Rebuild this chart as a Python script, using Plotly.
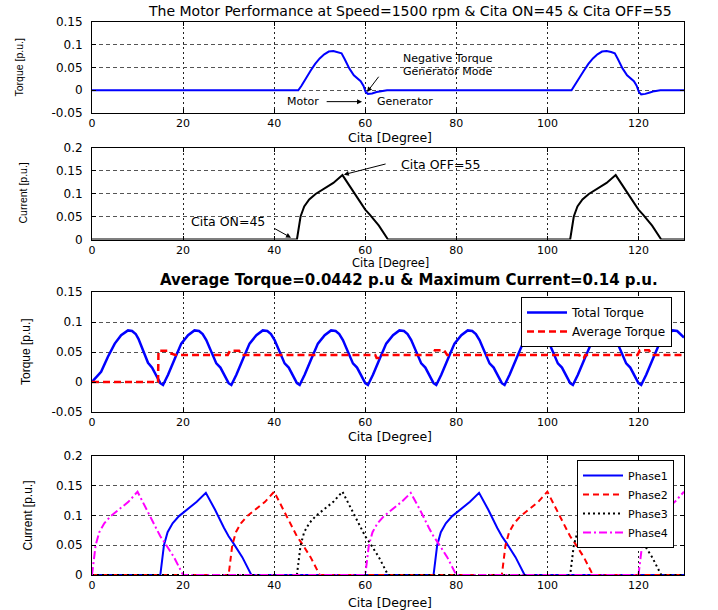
import plotly.graph_objects as go

# ---------------- data ----------------
# Panel 1: torque of one phase (Cita ON=45, OFF=55), p.u.
theta_t1 = [0, 45.3, 46, 46.5, 47, 48, 49, 50, 51, 52, 53, 54, 54.8, 55.5, 56.5, 57.5, 58.3, 59, 59.6, 60.1, 60.6, 61.5, 62.5, 63.5, 64.8,
            105.3, 106, 106.5, 107, 108, 109, 110, 111, 112, 113, 114, 114.8, 115.5, 116.5, 117.5, 118.3, 119, 119.6, 120.1, 120.6, 121.5, 122.5, 123.5, 124.8, 130]
torque_1 = [0, 0, 0.01, 0.019, 0.027, 0.043, 0.058, 0.07, 0.079, 0.085, 0.086, 0.084, 0.081, 0.068, 0.048, 0.033, 0.026, 0.02, 0.01, -0.004, -0.008, -0.007, -0.004, -0.002, 0,
            0, 0.01, 0.019, 0.027, 0.043, 0.058, 0.07, 0.079, 0.085, 0.086, 0.084, 0.081, 0.068, 0.048, 0.033, 0.026, 0.02, 0.01, -0.004, -0.009, -0.008, -0.005, -0.002, 0, 0]

# Panel 2: current of one phase, p.u.
theta_i1 = [0, 45, 45.4, 45.8, 46.6, 47.7, 49.1, 50.8, 53, 55, 57, 59, 60, 61, 63, 65,
            105, 105.4, 105.8, 106.6, 107.7, 109.1, 110.8, 113, 115, 117, 119, 120, 121, 123, 125, 130]
current_1 = [0, 0, 0.025, 0.05, 0.072, 0.087, 0.099, 0.109, 0.123, 0.14, 0.11, 0.079, 0.065, 0.054, 0.03, 0,
             0, 0.025, 0.05, 0.072, 0.087, 0.099, 0.109, 0.123, 0.14, 0.11, 0.079, 0.065, 0.054, 0.03, 0, 0]

# Panel 3: total torque and average torque, p.u.
theta_tot = [0, 1, 2, 3.5, 5, 6.4, 7.9, 8.8, 9.6, 10.2, 11.2, 12.3, 13.2, 14.1,
             15, 15.6, 16.7, 18.2, 19.6, 21.1, 22.5, 23.5, 24.3, 25.1, 26.2, 27.3, 28.2, 29.1,
             30, 30.6, 31.7, 33.2, 34.6, 36.1, 37.5, 38.5, 39.3, 40.1, 41.2, 42.3, 43.2, 44.1,
             45, 45.6, 46.7, 48.2, 49.6, 51.1, 52.5, 53.5, 54.3, 55.1, 56.2, 57.3, 58.2, 59.1,
             60, 60.6, 61.7, 63.2, 64.6, 66.1, 67.5, 68.5, 69.3, 70.1, 71.2, 72.3, 73.2, 74.1,
             75, 75.6, 76.7, 78.2, 79.6, 81.1, 82.5, 83.5, 84.3, 85.1, 86.2, 87.3, 88.2, 89.1,
             90, 90.6, 91.7, 93.2, 94.6, 96.1, 97.5, 98.5, 99.3, 100.1, 101.2, 102.3, 103.2, 104.1,
             105, 105.6, 106.7, 108.2, 109.6, 111.1, 112.5, 113.5, 114.3, 115.1, 116.2, 117.3, 118.2, 119.1,
             120, 120.6, 121.7, 123.2, 124.6, 126.1, 127.5, 128.5, 129.3, 130]
torque_tot = [0, 0.008, 0.017, 0.042, 0.064, 0.078, 0.086, 0.085, 0.080, 0.072, 0.052, 0.032, 0.024, 0.010,
              -0.002, -0.005, 0.012, 0.039, 0.064, 0.078, 0.086, 0.085, 0.080, 0.070, 0.050, 0.031, 0.024, 0.010,
              -0.002, -0.005, 0.012, 0.039, 0.064, 0.078, 0.086, 0.085, 0.080, 0.070, 0.050, 0.031, 0.024, 0.010,
              -0.002, -0.005, 0.012, 0.039, 0.064, 0.078, 0.086, 0.085, 0.080, 0.070, 0.050, 0.031, 0.024, 0.010,
              -0.002, -0.005, 0.012, 0.039, 0.064, 0.078, 0.086, 0.085, 0.080, 0.070, 0.050, 0.031, 0.024, 0.010,
              -0.002, -0.005, 0.012, 0.039, 0.064, 0.078, 0.086, 0.085, 0.080, 0.070, 0.050, 0.031, 0.024, 0.010,
              -0.002, -0.005, 0.012, 0.039, 0.064, 0.078, 0.086, 0.085, 0.080, 0.070, 0.050, 0.031, 0.024, 0.010,
              -0.002, -0.005, 0.012, 0.039, 0.064, 0.078, 0.086, 0.085, 0.080, 0.070, 0.050, 0.031, 0.024, 0.010,
              -0.002, -0.005, 0.012, 0.039, 0.064, 0.078, 0.086, 0.085, 0.080, 0.074]

theta_avg = [0, 14.5, 14.6, 16.6, 17.2, 18.3, 29.8, 30.3, 32.3, 33.0, 62.2, 62.5, 63.2, 63.5, 74.8, 75.3, 77.3, 78.0,
             107.0, 107.3, 108.0, 108.3, 119.8, 120.3, 122.3, 123.0, 130]
torque_avg = [0, 0, 0.052, 0.052, 0.048, 0.045, 0.045, 0.052, 0.052, 0.045, 0.045, 0.040, 0.040, 0.045, 0.045, 0.053, 0.053, 0.045,
              0.045, 0.040, 0.040, 0.045, 0.045, 0.053, 0.053, 0.045, 0.045]

# Panel 4: phase currents, p.u.
theta_p1 = [0, 15, 15.4, 15.8, 16.6, 17.7, 19.1, 20.8, 23, 25, 27, 29, 30, 31, 33, 35,
            75, 75.4, 75.8, 76.6, 77.7, 79.1, 80.8, 83, 85, 87, 89, 90, 91, 93, 95, 130]
current_p1 = [0, 0, 0.025, 0.05, 0.072, 0.087, 0.099, 0.109, 0.123, 0.138, 0.11, 0.079, 0.065, 0.054, 0.03, 0,
              0, 0.025, 0.05, 0.072, 0.087, 0.099, 0.109, 0.123, 0.138, 0.11, 0.079, 0.065, 0.054, 0.03, 0, 0]
theta_p2 = [0, 30, 30.4, 30.8, 31.6, 32.7, 34.1, 35.8, 38, 40, 42, 44, 45, 46, 48, 50,
            90, 90.4, 90.8, 91.6, 92.7, 94.1, 95.8, 98, 100, 102, 104, 105, 106, 108, 110, 130]
current_p2 = [0, 0, 0.025, 0.05, 0.072, 0.087, 0.099, 0.109, 0.123, 0.14, 0.11, 0.079, 0.065, 0.054, 0.03, 0,
              0, 0.025, 0.05, 0.072, 0.087, 0.099, 0.109, 0.123, 0.14, 0.11, 0.079, 0.065, 0.054, 0.03, 0, 0]
theta_p3 = [0, 45, 45.4, 45.8, 46.6, 47.7, 49.1, 50.8, 53, 55, 57, 59, 60, 61, 63, 65,
            105, 105.4, 105.8, 106.6, 107.7, 109.1, 110.8, 113, 115, 117, 119, 120, 121, 123, 125, 130]
current_p3 = [0, 0, 0.025, 0.05, 0.072, 0.087, 0.099, 0.109, 0.123, 0.14, 0.11, 0.079, 0.065, 0.054, 0.03, 0,
              0, 0.025, 0.05, 0.072, 0.087, 0.099, 0.109, 0.123, 0.14, 0.11, 0.079, 0.065, 0.054, 0.03, 0, 0]
theta_p4 = [0, 0.4, 0.8, 1.6, 2.7, 4.1, 5.8, 8, 10, 12, 14, 15, 16, 18, 20,
            60, 60.4, 60.8, 61.6, 62.7, 64.1, 65.8, 68, 70, 72, 74, 75, 76, 78, 80,
            120, 120.4, 120.8, 121.6, 122.7, 124.1, 125.8, 128, 130]
current_p4 = [0, 0.025, 0.05, 0.072, 0.087, 0.099, 0.109, 0.123, 0.14, 0.11, 0.079, 0.065, 0.054, 0.03, 0,
              0, 0.025, 0.05, 0.072, 0.087, 0.099, 0.109, 0.123, 0.138, 0.11, 0.079, 0.065, 0.054, 0.03, 0,
              0, 0.025, 0.05, 0.072, 0.087, 0.099, 0.109, 0.123, 0.14]

x_ticks = [0, 20, 40, 60, 80, 100, 120]
torque_ticks = [-0.05, 0, 0.05, 0.1, 0.15]
torque_ticklabels = ["-0.05", "0", "0.05", "0.1", "0.15"]
current_ticks = [0, 0.05, 0.1, 0.15, 0.2]
current_ticklabels = ["0", "0.05", "0.1", "0.15", "0.2"]

main_title = "The Motor Performance at Speed=1500 rpm & Cita ON=45 & Cita OFF=55"
sub_title = "Average Torque=0.0442 p.u & Maximum Current=0.14 p.u."

# ---------------- figure ----------------
W, H = 718, 610
L, R = 92, 34
PW = W - L - R

def px_x(px):
    return (px - L) / PW

def px_y(py):
    return 1 - py / H

TXT = "DejaVu Sans, Verdana, sans-serif"
BLUE, RED, MAG = "#0000ff", "#ff0000", "#ff00ff"

fig = go.Figure()

fig.add_trace(go.Scatter(x=theta_t1, y=torque_1, mode="lines", line=dict(color=BLUE, width=2),
                         xaxis="x", yaxis="y", showlegend=False))
fig.add_trace(go.Scatter(x=theta_i1, y=current_1, mode="lines", line=dict(color="black", width=2),
                         xaxis="x2", yaxis="y2", showlegend=False))
fig.add_trace(go.Scatter(x=theta_tot, y=torque_tot, mode="lines", name="Total Torque",
                         line=dict(color=BLUE, width=2.5), xaxis="x3", yaxis="y3", legend="legend"))
fig.add_trace(go.Scatter(x=theta_avg, y=torque_avg, mode="lines", name="Average Torque",
                         line=dict(color=RED, width=2.5, dash="7px,4px"), xaxis="x3", yaxis="y3", legend="legend"))
fig.add_trace(go.Scatter(x=theta_p1, y=current_p1, mode="lines", name="Phase1",
                         line=dict(color=BLUE, width=2), xaxis="x4", yaxis="y4", legend="legend2"))
fig.add_trace(go.Scatter(x=theta_p2, y=current_p2, mode="lines", name="Phase2",
                         line=dict(color=RED, width=2, dash="6px,4px"), xaxis="x4", yaxis="y4", legend="legend2"))
fig.add_trace(go.Scatter(x=theta_p3, y=current_p3, mode="lines", name="Phase3",
                         line=dict(color="black", width=2, dash="2px,3px"), xaxis="x4", yaxis="y4", legend="legend2"))
fig.add_trace(go.Scatter(x=theta_p4, y=current_p4, mode="lines", name="Phase4",
                         line=dict(color=MAG, width=2, dash="8px,3px,2px,3px"), xaxis="x4", yaxis="y4", legend="legend2"))

domains = {
    1: (px_y(113), px_y(22)),
    2: (px_y(239.5), px_y(147.5)),
    3: (px_y(412), px_y(292)),
    4: (px_y(575), px_y(456)),
}

def xaxis_cfg(anchor):
    return dict(domain=[0, 1], anchor=anchor, range=[0, 130], tickmode="array", tickvals=x_ticks,
                ticks="inside", ticklen=4, tickcolor="black", showline=True, linecolor="black", linewidth=1,
                mirror="ticks", showgrid=True, gridcolor="#222222", griddash="2px,3px", gridwidth=1,
                zeroline=False, tickfont=dict(family=TXT, size=11, color="black"))

def yaxis_cfg(anchor, dom, rng, vals, labels):
    return dict(domain=list(dom), anchor=anchor, range=rng, tickmode="array", tickvals=vals, ticktext=labels,
                ticks="inside", ticklen=4, tickcolor="black", showline=True, linecolor="black", linewidth=1,
                mirror="ticks", showgrid=True, gridcolor="#555555", griddash="4px,3px", gridwidth=1,
                zeroline=False, ticklabelstandoff=6, tickfont=dict(family=TXT, size=12, color="black"))

fig.update_layout(
    width=W, height=H, margin=dict(l=L, r=R, t=0, b=0, autoexpand=False),
    paper_bgcolor="white", plot_bgcolor="white",
    xaxis=xaxis_cfg("y"), yaxis=yaxis_cfg("x", domains[1], [-0.05, 0.15], torque_ticks, torque_ticklabels),
    xaxis2=xaxis_cfg("y2"), yaxis2=yaxis_cfg("x2", domains[2], [0, 0.2], current_ticks, current_ticklabels),
    xaxis3=xaxis_cfg("y3"), yaxis3=yaxis_cfg("x3", domains[3], [-0.05, 0.15], torque_ticks, torque_ticklabels),
    xaxis4=xaxis_cfg("y4"), yaxis4=yaxis_cfg("x4", domains[4], [0, 0.2], current_ticks, current_ticklabels),
    legend=dict(x=px_x(672), xanchor="right", y=px_y(297), yanchor="top", bgcolor="white",
                bordercolor="black", borderwidth=1, font=dict(family=TXT, size=12, color="black"),
                tracegroupgap=0, itemwidth=40),
    legend2=dict(x=px_x(674), xanchor="right", y=px_y(460), yanchor="top", bgcolor="white",
                 bordercolor="black", borderwidth=1, font=dict(family=TXT, size=11, color="black"),
                 tracegroupgap=0, itemwidth=40),
    showlegend=True,
)

ann = []
# titles
ann.append(dict(text=main_title, xref="paper", yref="paper", x=px_x(410), y=px_y(11.5), xanchor="center",
                yanchor="middle", showarrow=False, font=dict(family=TXT, size=14, color="black")))
ann.append(dict(text="<b>" + sub_title + "</b>", xref="paper", yref="paper", x=px_x(409), y=px_y(280),
                xanchor="center", yanchor="middle", showarrow=False, font=dict(family=TXT, size=15, color="black")))
# x-axis titles
for ypx, fs in ((137, 12.5), (262.5, 11.5), (436, 12.5), (602, 12.5)):
    ann.append(dict(text="Cita [Degree]", xref="paper", yref="paper", x=px_x(390), y=px_y(ypx), xanchor="center",
                    yanchor="middle", showarrow=False, font=dict(family=TXT, size=fs, color="black")))
# y-axis titles
ytitles = [("Torque [p.u.]", "y domain", 18, 10.5), ("Current [p.u.]", "y2 domain", 22, 10.5),
           ("Torque [p.u.]", "y3 domain", 26, 12), ("Current [p.u.]", "y4 domain", 27, 12)]
for txt, yref, xpx, fs in ytitles:
    ann.append(dict(text=txt, xref="paper", yref=yref, x=px_x(xpx), y=0.5, xanchor="center", yanchor="middle",
                    textangle=-90, showarrow=False,
                    font=dict(family="Liberation Sans, Arial, sans-serif", size=fs, color="black")))

# panel 1 annotations
AF = dict(family=TXT, size=12.5, color="black")
AFS = dict(family=TXT, size=11, color="black")
ann.append(dict(text="Negative Torque", xref="x", yref="y", x=78.2, y=0.0705, showarrow=False, font=AFS))
ann.append(dict(text="Generator Mode", xref="x", yref="y", x=78.2, y=0.041, showarrow=False, font=AFS))
ann.append(dict(text="", xref="x", yref="y", x=60.4, y=-0.004, axref="x", ayref="y", ax=63.2, ay=0.033,
                showarrow=True, arrowhead=2, arrowsize=1, arrowwidth=1, arrowcolor="black"))
ann.append(dict(text="Motor", xref="x", yref="y", x=46.4, y=-0.025, showarrow=False, font=AFS))
ann.append(dict(text="Generator", xref="x", yref="y", x=68.7, y=-0.025, showarrow=False, font=AFS))
ann.append(dict(text="", xref="x", yref="y", x=59.3, y=-0.025, axref="x", ayref="y", ax=51.2, ay=-0.025,
                showarrow=True, arrowhead=2, arrowsize=1, arrowwidth=1, arrowcolor="black"))
# panel 2 annotations
ann.append(dict(text="Cita OFF=55", xref="x2", yref="y2", x=76.5, y=0.163, showarrow=False, font=AF))
ann.append(dict(text="", xref="x2", yref="y2", x=55.3, y=0.141, axref="x2", ayref="y2", ax=64.8, ay=0.165,
                showarrow=True, arrowhead=2, arrowsize=1, arrowwidth=1, arrowcolor="black"))
ann.append(dict(text="Cita ON=45", xref="x2", yref="y2", x=29.9, y=0.04, showarrow=False, font=AF))
ann.append(dict(text="", xref="x2", yref="y2", x=43.7, y=0.004, axref="x2", ayref="y2", ax=39.7, ay=0.026,
                showarrow=True, arrowhead=2, arrowsize=1, arrowwidth=1, arrowcolor="black"))

fig.update_layout(annotations=ann)
fig.write_html("out.html")
